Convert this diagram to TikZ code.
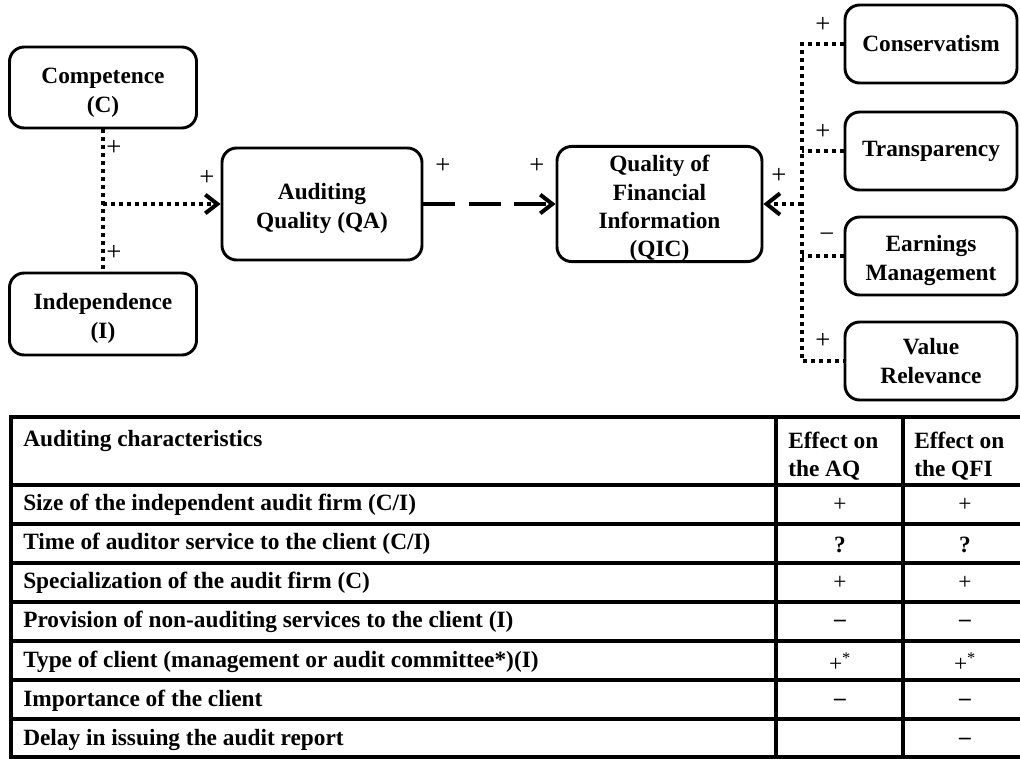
\documentclass[tikz,border=0pt]{standalone}
\usepackage{fontspec}
\setmainfont{Liberation Serif}
\usetikzlibrary{arrows.meta}
\newcommand{\bxfont}{\fontsize{17.5}{22}\selectfont\bfseries}
\newcommand{\qifont}{\fontsize{17.5}{21.2}\selectfont\bfseries}
\newcommand{\tbfont}{\fontsize{17.5}{21}\selectfont\bfseries}
\newcommand{\sgfont}{\fontsize{20}{22}\selectfont}
\newcommand{\up}{\rule{0pt}{19pt}}
\begin{document}
\begin{tikzpicture}[x=0.75pt,y=-0.75pt]
\tikzset{barb/.style={-{Straight Barb[length=9pt,width=14pt]}}}
\tikzstyle{box}=[draw,rounded corners=11pt,line width=2.2pt,align=center,font=\bxfont,inner sep=0pt]
\tikzstyle{sgn}=[font=\sgfont,inner sep=0pt]
\tikzstyle{dotline}=[line width=3pt,dash pattern=on 3pt off 3pt]
\tikzstyle{dashline}=[line width=3pt,dash pattern=on 24pt off 10pt]
\tikzstyle{rule}=[line width=2.4pt]
\tikzstyle{cell}=[anchor=west,align=left,font=\tbfont,inner sep=0pt]
\tikzstyle{val}=[font=\tbfont,inner sep=0pt]
\useasboundingbox (0,0) rectangle (1020,758);
% diagram
\node[box,minimum width=140.25pt,minimum height=60.75pt] (cp)at(103,87.5){\up Competence\\(C)};
\node[box,minimum width=140.25pt,minimum height=61.5pt] (ip)at(103,314){\up Independence\\(I)};
\node[box,minimum width=150pt,minimum height=84pt] (qa)at(322,204){\up Auditing\\Quality (QA)};
\node[box,font=\qifont,minimum width=153.75pt,minimum height=82.5pt] (qi)at(659.5,204){\up Quality of\\Financial\\Information\\(QIC)};
\node[box,minimum width=129pt,minimum height=58.5pt] (cs)at(931,44){Conservatism};
\node[box,minimum width=129pt,minimum height=58.5pt] (tr)at(931,151){Transparency};
\node[box,minimum width=129pt,minimum height=58.5pt] (em)at(931,256){\up Earnings\\Management};
\node[box,minimum width=129pt,minimum height=58.5pt] (vr)at(931,361){Value\\Relevance};
\coordinate (j1)at(103,204);
\coordinate (j2)at(802,204);
\node[sgn] (s1)at(114,148){+};
\node[sgn] (s2)at(114,253){+};
\node[sgn] (s3)at(207,178){+};
\node[sgn] (s4)at(443,166){+};
\node[sgn] (s5)at(537,166){+};
\node[sgn] (s6)at(779,176){+};
\node[sgn] (s7)at(823,25){+};
\node[sgn] (s8)at(823,132){+};
\node[sgn] (s9)at(827,238){−};
\node[sgn] (s10)at(823,341){+};
\draw[dotline] (cp)--(ip);
\draw[dotline,barb] (j1)--(qa);
\draw[dashline,barb] (qa)--(qi);
\draw[dotline] (cs)-|(j2)|-(vr);
\draw[dotline] (tr)--(tr-|j2);
\draw[dotline] (em)--(em-|j2);
\draw[dotline,-{Straight Barb[length=10pt,width=16pt]}] (j2)--(qi);
% table
\draw[rule] (1020,417)--(11,417)--(11,757)--(1020,757);
\draw[rule] (11,485)--(1020,485);
\draw[rule] (11,524)--(1020,524);
\draw[rule] (11,563)--(1020,563);
\draw[rule] (11,602)--(1020,602);
\draw[rule] (11,641)--(1020,641);
\draw[rule] (11,680)--(1020,680);
\draw[rule] (11,719)--(1020,719);
\draw[rule] (776,417)--(776,757);
\draw[rule] (903,417)--(903,757);
\node[cell] (h0)at(23,441){Auditing characteristics};
\node[cell] (h1)at(788,456){Effect on\\the AQ};
\node[cell] (h2)at(914,456){Effect on\\the QFI};
\node[cell] (r1)at(23,505){Size of the independent audit firm (C/I)};
\node[cell] (r2)at(23,544){Time of auditor service to the client (C/I)};
\node[cell] (r3)at(23,583){Specialization of the audit firm (C)};
\node[cell] (r4)at(23,622){Provision of non-auditing services to the client (I)};
\node[cell] (r5)at(23,662){Type of client (management or audit committee*)(I)};
\node[cell] (r6)at(23,701){Importance of the client};
\node[cell] (r7)at(23,740){Delay in issuing the audit report};
\node[val] (a1)at(840,505){\mdseries +};
\node[val] (b1)at(965,505){\mdseries +};
\node[val] (a2)at(840,545){?};
\node[val] (b2)at(965,545){?};
\node[val] (a3)at(840,583){\mdseries +};
\node[val] (b3)at(965,583){\mdseries +};
\node[val] (a4)at(840,623){--};
\node[val] (b4)at(965,623){--};
\node[val] (a5)at(840,662){\mdseries +\textsuperscript{*}};
\node[val] (b5)at(965,662){\mdseries +\textsuperscript{*}};
\node[val] (a6)at(840,702){--};
\node[val] (b6)at(965,702){--};
\node[val] (b7)at(965,741){--};
\end{tikzpicture}
\end{document}
